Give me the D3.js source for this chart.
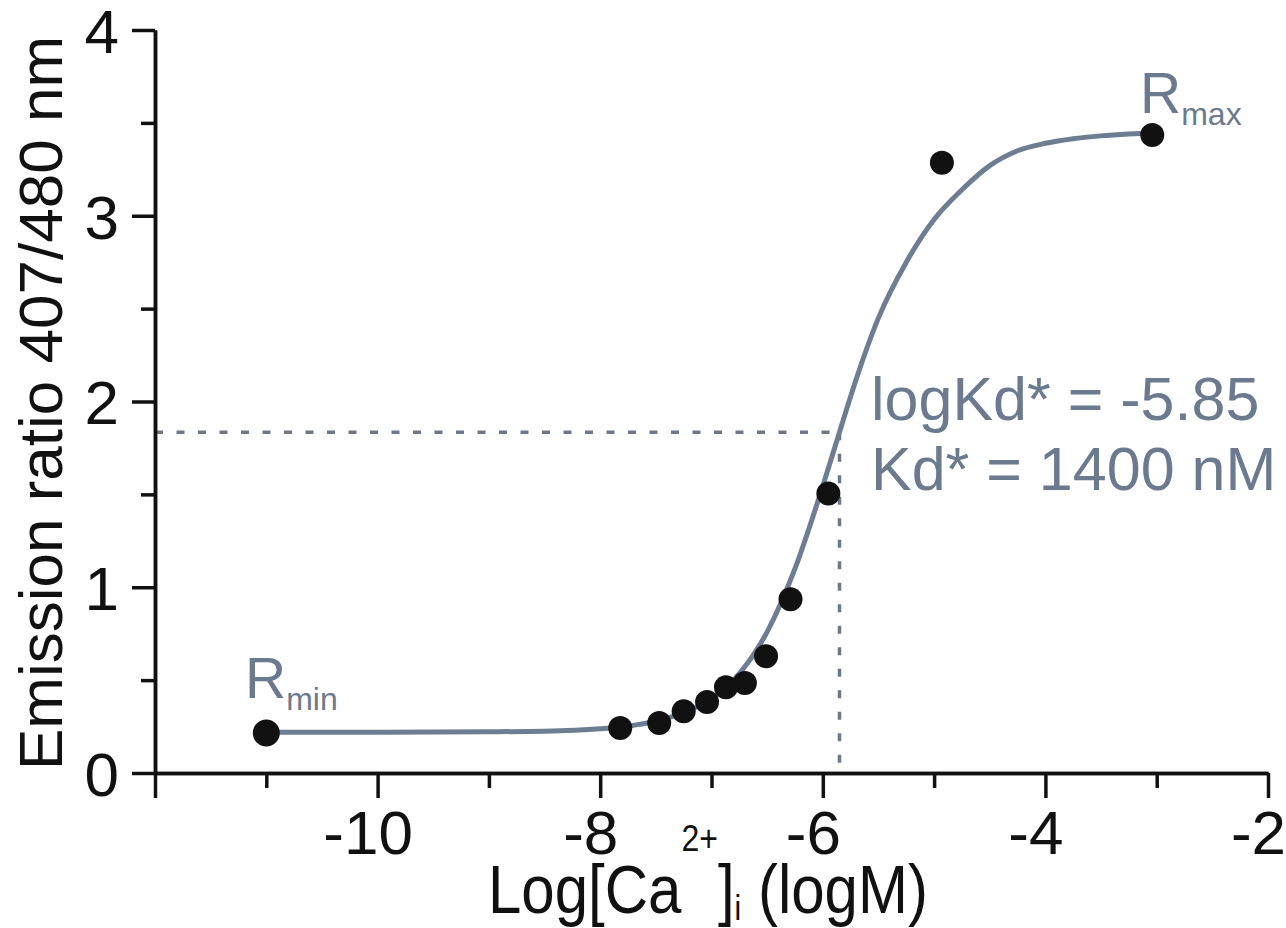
<!DOCTYPE html>
<html>
<head>
<meta charset="utf-8">
<script src="https://cdnjs.cloudflare.com/ajax/libs/d3/7.8.5/d3.min.js"></script>
<style>
  html, body { margin: 0; padding: 0; background: #fff; }
  svg { display: block; font-family: "Liberation Sans", Arial, Helvetica, sans-serif; }
</style>
</head>
<body>
<div id="chart"></div>
<script>
// measured points (log[Ca2+] , emission ratio)
var pointX = [-11.0, -7.82, -7.47, -7.25, -7.04, -6.87, -6.70, -6.51, -6.29, -5.95, -4.93, -3.04];
var pointY = [0.215, 0.242, 0.269, 0.333, 0.382, 0.462, 0.484, 0.629, 0.935, 1.505, 3.285, 3.435];

// fitted curve
var curveX = [-11, -10, -9, -8.5, -8, -7.75, -7.5, -7.25, -7, -6.75, -6.5, -6.25, -6, -5.85, -5.7, -5.5, -5.25, -5, -4.75, -4.5, -4.25, -4, -3.75, -3.5, -3.25, -3];
var curveY = [0.220, 0.220, 0.222, 0.225, 0.238, 0.252, 0.279, 0.326, 0.400, 0.535, 0.760, 1.100, 1.545, 1.835, 2.120, 2.450, 2.750, 2.980, 3.140, 3.270, 3.350, 3.390, 3.415, 3.430, 3.440, 3.447];

var kdX = -5.85;   // logKd*
var kdY = 1.835;   // half way between Rmin and Rmax

var xMajor = [-12, -10, -8, -6, -4, -2];
var xMinor = [-11, -9, -7, -5, -3];
var yMajor = [0, 1, 2, 3, 4];
var yMinor = [0.5, 1.5, 2.5, 3.5];

var width = 1286, height = 928;
var black = "#111", slate = "#6b7a8e";

var svg = d3.select("#chart").append("svg")
    .attr("width", width)
    .attr("height", height);

var x = d3.scaleLinear().domain([-12, -2]).range([155, 1268]);
var y = d3.scaleLinear().domain([0, 4]).range([773, 30]);

// dashed guide lines at Kd
var guides = svg.append("g")
    .attr("stroke", "#6f7784")
    .attr("stroke-width", 3.5)
    .attr("stroke-dasharray", "8,13.5")
    .attr("fill", "none");
guides.append("line")
    .attr("x1", x(-12)).attr("x2", x(kdX))
    .attr("y1", y(kdY)).attr("y2", y(kdY));
guides.append("line")
    .attr("x1", x(kdX)).attr("x2", x(kdX))
    .attr("y1", y(kdY)).attr("y2", y(0));

// axes
var styleAxis = (g) => {
    g.select(".domain").attr("stroke", black).attr("stroke-width", 3.5);
    g.selectAll(".tick line").attr("stroke", black).attr("stroke-width", 3.5);
    g.selectAll("text").attr("fill", black).attr("font-size", 62);
};

var gxMinor = svg.append("g")
    .attr("transform", "translate(0," + y(0) + ")")
    .call(d3.axisBottom(x).tickValues(xMinor).tickSize(15).tickSizeOuter(0).tickFormat(""));
styleAxis(gxMinor);

var gx = svg.append("g")
    .attr("transform", "translate(0," + y(0) + ")")
    .call(d3.axisBottom(x).tickValues(xMajor).tickSize(25).tickSizeOuter(0)
        .tickFormat((d) => d === -12 ? "" : d));
styleAxis(gx);
gx.selectAll("text").attr("y", 81).attr("dy", 0).attr("x", -10);

var gyMinor = svg.append("g")
    .attr("transform", "translate(" + x(-12) + ",0)")
    .call(d3.axisLeft(y).tickValues(yMinor).tickSize(14).tickSizeOuter(0).tickFormat(""));
styleAxis(gyMinor);

var gy = svg.append("g")
    .attr("transform", "translate(" + x(-12) + ",0)")
    .call(d3.axisLeft(y).tickValues(yMajor).tickSize(23).tickSizeOuter(0)
        .tickFormat(d3.format("d")));
styleAxis(gy);
gy.selectAll("text").attr("x", -36).attr("dy", "0.36em");

// fitted curve
var curveData = curveX.map((d, i) => [d, curveY[i]]);
var line = d3.line()
    .x((d) => x(d[0]))
    .y((d) => y(d[1]))
    .curve(d3.curveMonotoneX);

svg.append("path")
    .datum(curveData)
    .attr("d", line)
    .attr("fill", "none")
    .attr("stroke", "#6d7d92")
    .attr("stroke-width", 5);

// points
var points = pointX.map((d, i) => ({x: d, y: pointY[i], r: i === 0 ? 13.5 : 12}));
svg.append("g").selectAll("circle")
    .data(points)
    .enter()
    .append("circle")
    .attr("cx", (d) => x(d.x))
    .attr("cy", (d) => y(d.y))
    .attr("r", (d) => d.r)
    .attr("fill", black);

// Rmin / Rmax labels
var rmin = svg.append("text").attr("x", 245).attr("y", 698).attr("fill", slate).attr("font-size", 57);
rmin.append("tspan").text("R");
rmin.append("tspan").attr("font-size", 32).attr("dy", 12).text("min");

var rmax = svg.append("text").attr("x", 1140).attr("y", 113).attr("fill", slate).attr("font-size", 57);
rmax.append("tspan").text("R");
rmax.append("tspan").attr("font-size", 32).attr("dy", 12).text("max");

// Kd annotation
svg.append("text")
    .attr("x", 871).attr("y", 420)
    .attr("fill", slate).attr("font-size", 61)
    .text("logKd* = -5.85");
svg.append("text")
    .attr("x", 871).attr("y", 490)
    .attr("fill", slate).attr("font-size", 61)
    .text("Kd* = 1400 nM");

// axis titles
svg.append("text")
    .attr("transform", "translate(62,403) rotate(-90)")
    .attr("text-anchor", "middle")
    .attr("fill", black)
    .attr("font-size", 62)
    .text("Emission ratio 407/480 nm");

var xt = svg.append("text")
    .attr("transform", "translate(488,913) scale(1,1.15)")
    .attr("fill", black)
    .attr("font-size", 60);
xt.append("tspan").text("Log[Ca");
xt.append("tspan").attr("font-size", 32).attr("dy", -54).text("2+");
xt.append("tspan").attr("dy", 54).text("]");
xt.append("tspan").attr("font-size", 30).attr("dy", 6).text("i");
xt.append("tspan").attr("dy", -6).text(" (logM)");
</script>
</body>
</html>
